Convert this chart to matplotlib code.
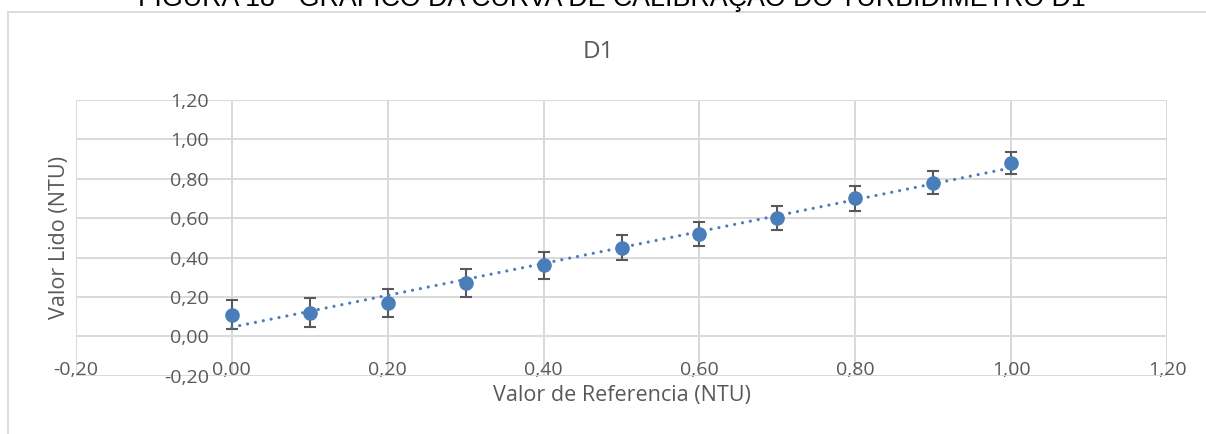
import numpy as np
import matplotlib
matplotlib.use("Agg")
import matplotlib.pyplot as plt
from matplotlib.ticker import FuncFormatter, MultipleLocator
from matplotlib.lines import Line2D

# === Data ===
ref_values = [0.0, 0.1, 0.2, 0.3, 0.4, 0.5, 0.6, 0.7, 0.8, 0.9, 1.0]
read_values = [0.11, 0.12, 0.17, 0.27, 0.36, 0.45, 0.52, 0.60, 0.70, 0.78, 0.88]
errors = [0.073, 0.075, 0.072, 0.07, 0.067, 0.065, 0.063, 0.062, 0.065, 0.057, 0.055]

fig_title = "FIGURA 18 - GRÁFICO DA CURVA DE CALIBRAÇÃO DO TURBIDÍMETRO D1"
chart_title = "D1"
x_label = "Valor de Referencia (NTU)"
y_label = "Valor Lido (NTU)"

# === Style ===
W, H = 1206, 434
blue = "#4a7ebb"
gray_txt = "#595959"
grid_col = "#d9d9d9"
plt.rcParams["font.family"] = ["Open Sans", "DejaVu Sans"]

fig = plt.figure(figsize=(W / 100, H / 100), dpi=100)
ax = fig.add_axes([76 / W, 58.3 / H, (1167 - 76) / W, (375.7 - 100) / H])

ax.errorbar(ref_values, read_values, yerr=errors, fmt="none",
            ecolor=gray_txt, elinewidth=1.5, capsize=4.3, capthick=1.5, zorder=3)
ax.plot(ref_values, read_values, "o", color=blue, markersize=9.5, zorder=4)

# linear trendline
slope, intercept = np.polyfit(ref_values, read_values, 1)
xt = np.array([ref_values[0], ref_values[-1]])
ax.plot(xt, slope * xt + intercept, color=blue, lw=2.3,
        linestyle=(0, (0.01, 2.5)), dash_capstyle="round", zorder=5)

ax.set_xlim(-0.2, 1.2)
ax.set_ylim(-0.2, 1.2)
ax.xaxis.set_major_locator(MultipleLocator(0.2))
ax.yaxis.set_major_locator(MultipleLocator(0.2))
fmt = FuncFormatter(lambda v, p: f"{v:.2f}".replace(".", ",").replace("-0,00", "0,00"))
ax.xaxis.set_major_formatter(fmt)
ax.yaxis.set_major_formatter(fmt)

ax.grid(True, color=grid_col, lw=1.4, zorder=0)
ax.set_axisbelow(True)
for s in ax.spines.values():
    s.set_visible(False)
ax.spines["left"].set_position(("data", 0))

ax.tick_params(axis="both", length=0, labelsize=14, labelcolor=gray_txt)
ax.tick_params(axis="y", pad=16.5)
ax.tick_params(axis="x", pad=-10.5)

ax.set_xlabel(x_label, fontsize=15.5, color=gray_txt, va="center")
ax.xaxis.set_label_coords(0.5, -0.0736)
ax.set_ylabel(y_label, fontsize=15.5, color=gray_txt, va="center")
ax.yaxis.set_label_coords((59 - 76) / (1167 - 76), 0.5)

# chart title and figure caption
fig.text(598 / W, 1 - 52.5 / H, chart_title, ha="center", va="center",
         fontsize=17.5, color=gray_txt)
fig.text(612 / W, 1 - 6 / H, fig_title, ha="center", va="baseline",
         fontsize=19.3, color="black", family=["Liberation Sans", "DejaVu Sans"])

# chart area border
fig.add_artist(Line2D([8 / W, 1.01], [1 - 11.7 / H, 1 - 11.7 / H],
                      transform=fig.transFigure, color=grid_col, lw=1.3))
fig.add_artist(Line2D([8 / W, 8 / W], [1 - 11.7 / H, -0.01],
                      transform=fig.transFigure, color=grid_col, lw=1.3))

fig.savefig("out.png", dpi=100)
